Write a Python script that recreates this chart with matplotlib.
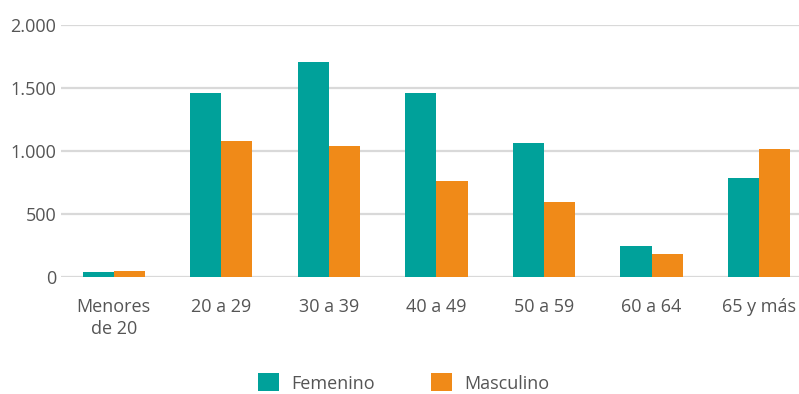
import matplotlib
matplotlib.use("Agg")
import matplotlib.pyplot as plt
import numpy as np
from matplotlib.patches import Patch
from matplotlib.ticker import FuncFormatter

categories = ["Menores\nde 20", "20 a 29", "30 a 39", "40 a 49", "50 a 59", "60 a 64", "65 y más"]
femenino = [40, 1460, 1700, 1460, 1062, 248, 782]
masculino = [45, 1080, 1038, 760, 594, 180, 1014]
yticks = [0, 500, 1000, 1500, 2000]

teal = "#00A19A"
orange = "#F08A18"
txt = "#555555"
grid = "#d9d9d9"

plt.rcParams['font.family'] = ['Open Sans', 'DejaVu Sans']
fs = 13

fig = plt.figure(figsize=(7.99, 3.94), dpi=100)
ax = fig.add_axes([61/799, 1-277/394, 1-61/799, (277-24.5)/394])

x = np.arange(len(categories))
w = 0.29
ax.bar(x - w/2, femenino, w, color=teal, zorder=3)
ax.bar(x + w/2, masculino, w, color=orange, zorder=3)

ax.set_ylim(0, 2000)
ax.set_xlim(-0.49, 6.37)
ax.set_yticks(yticks)
ax.yaxis.set_major_formatter(FuncFormatter(lambda v, p: f"{int(v):,}".replace(",", ".")))
ax.set_xticks(x)
ax.set_xticklabels(categories, fontsize=fs, color=txt, linespacing=1.3)
ax.tick_params(axis='x', length=0, pad=15)
ax.tick_params(axis='y', length=0, pad=3.5, labelsize=fs, labelcolor=txt)
for t in ax.get_xticklabels():
    t.set_verticalalignment('top')

ax.grid(axis='y', color=grid, linewidth=1.6, zorder=0)
for s in ax.spines.values():
    s.set_visible(False)

handles = [Patch(facecolor=teal, label="Femenino"), Patch(facecolor=orange, label="Masculino")]
fig.legend(handles=handles, loc='center', bbox_to_anchor=(404/799, 1-383/394), ncol=2,
           frameon=False, fontsize=fs, labelcolor=txt, handlelength=1.15, handleheight=1.15,
           handletextpad=0.7, columnspacing=3.1)

fig.savefig("out.png", dpi=100)
